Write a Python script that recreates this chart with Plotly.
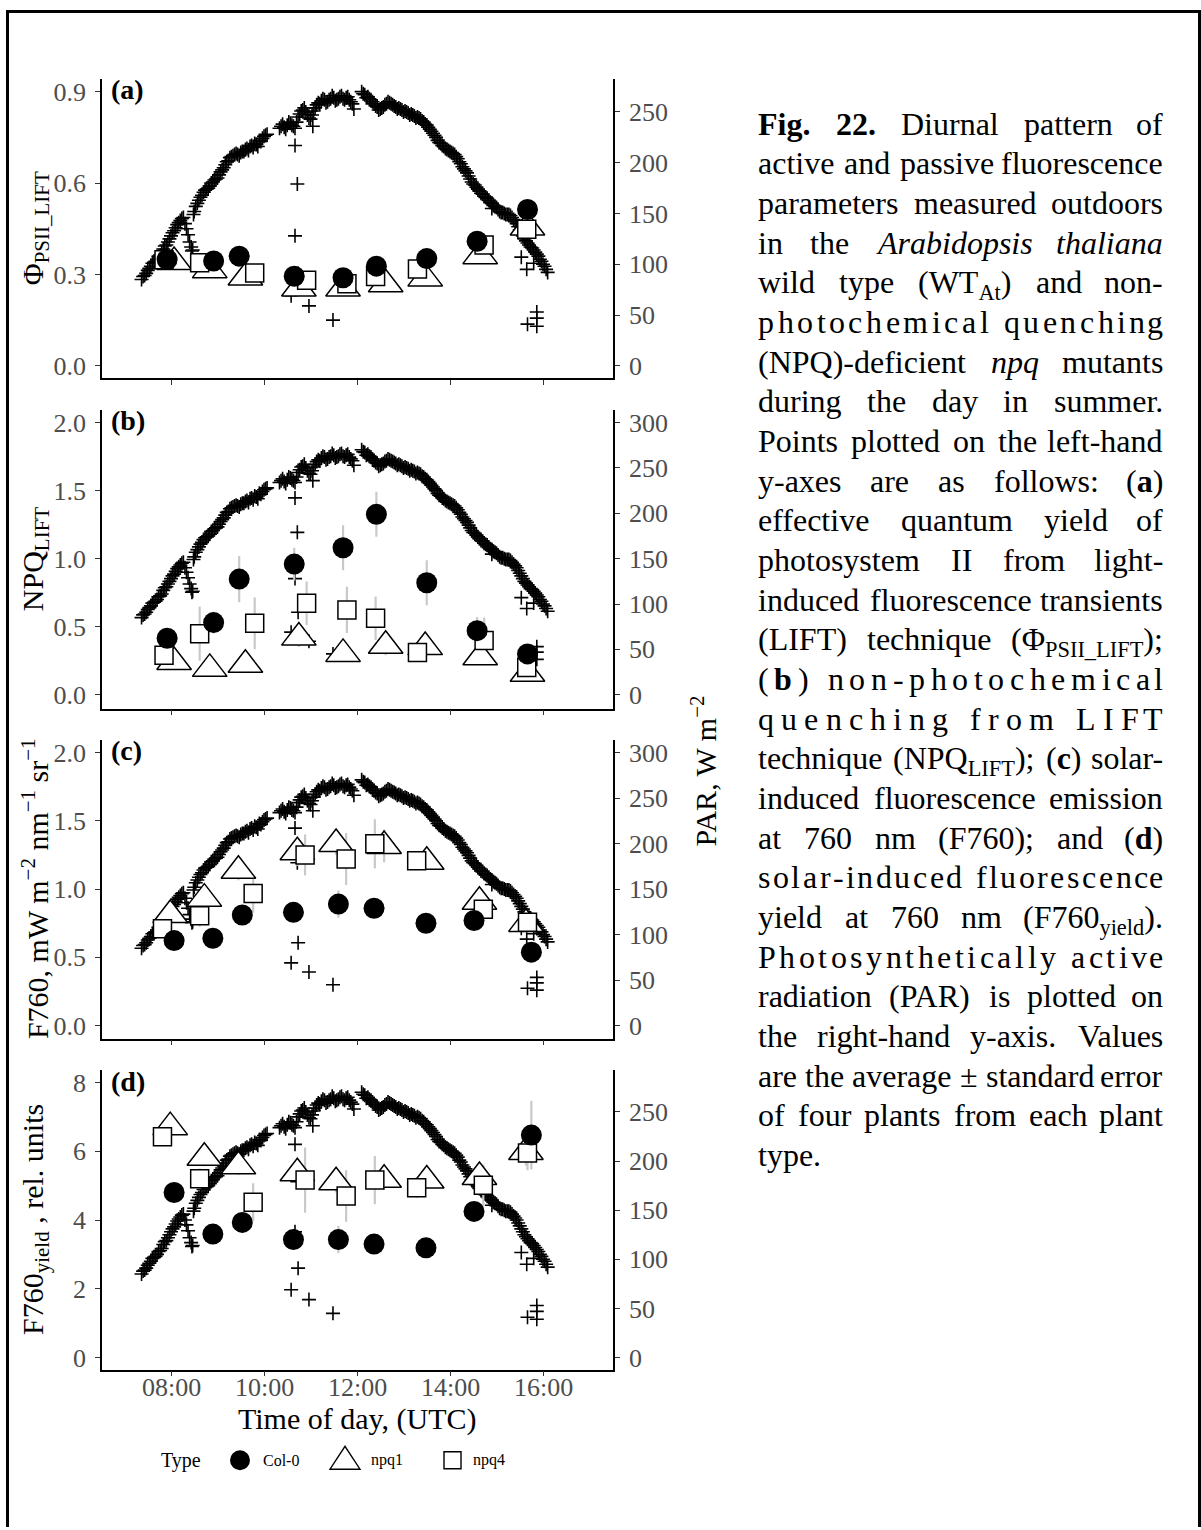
import pandas as pd
import plotly.graph_objects as go

W, H = 1201, 1530
DAY = "2019-07-10 "
SERIF = "Liberation Serif"

# ---------------- PAR record (two interleaved loggers, 4-min steps, None = no reading) -------------
par_times = pd.date_range(DAY + "07:22", DAY + "16:06", freq="4min")
par_values = [85, 89, 94, 98, 102, 105, 109, 115, 119, 125,
              131, 136, 141, 145, 140, 129, 117, 152, 160, 166,
              171, 174, 177, 181, 184, 188, 193, 198, 202, 206,
              208, 208, 210, 211, 214, 216, 215, 218, 222, 224,
              227, None, None, None, None, 236, 235, 237, 239, 236,
              240, 248, 252, 250, 244, 247, 254, 259, 261, 262,
              260, 263, 264, 262, 265, 263, 264, 262, 258, None,
              None, 270, 267, 265, 262, 258, 255, 253, 255, 258,
              259, 257, 255, 254, 252, 251, 249, 248, 246, 245,
              243, 240, 237, 233, 229, 225, 220, 217, 214, 212,
              210, 208, 204, 199, 194, 190, 184, 179, 176, 172,
              169, 166, 163, 160, 157, 154, 151, 150, 149, 148,
              144, 140, 134, 128, 123, 119, 116, 112, 108, 103,
              98, 92]
par_times_b = pd.date_range(DAY + "07:24", DAY + "16:04", freq="4min")
par_values_b = [88, 91, 96, 101, 103, 108, 111, 118, 122, 128,
                133, 139, 143, 146, 135, 122, 114, 157, 163, 168,
                173, 175, 180, 183, 185, 191, 195, 201, 205, 207,
                209, 207, 211, 213, 212, 217, 219, 216, 221, 226,
                228, None, None, None, 234, 238, 233, 240, 237, 234,
                245, 251, 254, 247, 243, 251, 257, 258, 263, 259,
                262, 266, 261, 263, 266, 262, 265, 260, None, None,
                None, 268, 264, 263, 260, 256, 252, 254, 257, 260,
                258, 256, 253, 253, 250, 250, 247, 247, 244, 244,
                241, 238, 235, 231, 227, 222, 219, 216, 213, 211,
                209, 206, 201, 196, 192, 187, 181, 178, 174, 170,
                167, 165, 161, 158, 156, 152, 151, 149, 149, 146,
                142, 137, 131, 125, 121, 117, 114, 110, 105, 100,
                95]
par_extra_times = ["08:27", "08:29", "10:35", "10:40", "10:40", "10:43", "10:44",
                   "10:58", "11:03", "11:29", "11:56", "14:54", "15:32", "15:39",
                   "15:48", "15:40", "15:52", "15:52", "15:52"]
par_extra_values = [113, 149, 69, 128, 217, 179, 91,
                    59, 236, 45, 253, 155, 107, 95,
                    101, 41, 53, 47, 39]

# ---------------- sampling times ----------------
lift_time_col0 = ["07:55", "08:55", "09:28", "10:39", "11:42", "12:25", "13:30", "14:35", "15:40"]
lift_time_npq1 = ["08:04", "08:50", "09:36", "10:45", "11:42", "12:37", "13:28", "14:39", "15:40"]
lift_time_npq4 = ["07:51", "08:37", "09:48", "10:55", "11:47", "12:24", "13:18", "14:44", "15:39"]
sif_time_col0 = ["08:04", "08:54", "09:32", "10:38", "11:36", "12:22", "13:29", "14:31", "15:45"]
sif_time_npq1 = ["07:59", "08:43", "09:27", "10:43", "11:33", "12:35", "13:30", "14:38", "15:38"]
sif_time_npq4 = ["07:49", "08:37", "09:46", "10:53", "11:46", "12:23", "13:17", "14:43", "15:40"]

# ---------------- (a) PhiPSII_LIFT ----------------
phi_col0 = [0.349, 0.344, 0.360, 0.294, 0.289, 0.327, 0.352, 0.409, 0.513]
phi_npq1 = [0.341, 0.314, 0.290, 0.254, 0.254, 0.268, 0.287, 0.360, 0.454]
phi_npq4 = [0.348, 0.338, 0.305, 0.281, 0.269, 0.293, 0.318, 0.397, 0.448]
phi_se_col0 = [0.01, 0.01, 0.01, 0.01, 0.01, 0.01, 0.01, 0.01, 0.01]
phi_se_npq1 = [0.01, 0.01, 0.01, 0.01, 0.01, 0.01, 0.01, 0.01, 0.01]
phi_se_npq4 = [0.01, 0.01, 0.01, 0.01, 0.01, 0.01, 0.01, 0.01, 0.01]

# ---------------- (b) NPQ_LIFT ----------------
npq_col0 = [0.415, 0.53, 0.85, 0.96, 1.08, 1.326, 0.823, 0.471, 0.30]
npq_npq1 = [0.24, 0.19, 0.22, 0.42, 0.30, 0.36, 0.35, 0.276, 0.154]
npq_npq4 = [0.29, 0.449, 0.525, 0.672, 0.623, 0.562, 0.31, 0.398, 0.20]
npq_se_col0 = [0.05, 0.08, 0.17, 0.12, 0.165, 0.165, 0.165, 0.10, 0.06]
npq_se_npq1 = [0.04, 0.05, 0.05, 0.07, 0.06, 0.07, 0.07, 0.06, 0.04]
npq_se_npq4 = [0.06, 0.20, 0.19, 0.16, 0.17, 0.16, 0.06, 0.17, 0.08]

# ---------------- (c) F760 ----------------
f760_col0 = [0.623, 0.64, 0.81, 0.83, 0.89, 0.86, 0.75, 0.77, 0.538]
f760_npq1 = [0.81, 0.93, 1.134, 1.27, 1.33, 1.316, 1.20, 0.907, 0.745]
f760_npq4 = [0.71, 0.805, 0.967, 1.25, 1.22, 1.332, 1.207, 0.853, 0.757]
f760_se_col0 = [0.03, 0.04, 0.05, 0.06, 0.10, 0.05, 0.04, 0.05, 0.05]
f760_se_npq1 = [0.05, 0.06, 0.07, 0.10, 0.08, 0.12, 0.06, 0.06, 0.05]
f760_se_npq4 = [0.04, 0.08, 0.14, 0.15, 0.19, 0.18, 0.07, 0.06, 0.05]

# ---------------- (d) F760 yield ----------------
fy_col0 = [4.80, 3.59, 3.93, 3.43, 3.43, 3.30, 3.19, 4.25, 6.47]
fy_npq1 = [6.70, 5.81, 5.56, 5.36, 5.10, 5.17, 5.15, 5.25, 5.98]
fy_npq4 = [6.42, 5.20, 4.52, 5.16, 4.70, 5.16, 4.94, 5.01, 5.95]
fy_se_col0 = [0.15, 0.15, 0.20, 0.20, 0.40, 0.20, 0.15, 0.20, 1.00]
fy_se_npq1 = [0.20, 0.25, 0.25, 0.40, 0.30, 0.30, 0.20, 0.30, 0.40]
fy_se_npq4 = [0.25, 0.30, 0.55, 0.95, 0.75, 0.70, 0.30, 0.60, 0.50]

x_ticks = ["08:00", "10:00", "12:00", "14:00", "16:00"]


def stamp(times):
    return [DAY + t for t in times]


def px(x):
    return x / W


def py(y):
    return 1 - y / H


# panel geometry (pixels) and left/right axis scaling
PLOT_L, PLOT_R = 102, 613
panels = [
    dict(top=77, bottom=377, lo=-0.0393, hi=0.9424, k=300,
         lticks=[0, 0.3, 0.6, 0.9], lfmt=".1f", rticks=[0, 50, 100, 150, 200, 250],
         tag="(a)", title="Φ<sub>PSII_LIFT</sub>",
         times=(lift_time_col0, lift_time_npq1, lift_time_npq4),
         vals=(phi_col0, phi_npq1, phi_npq4), ses=(phi_se_col0, phi_se_npq1, phi_se_npq4)),
    dict(top=409, bottom=709, lo=-0.1026, hi=2.0952, k=150,
         lticks=[0, 0.5, 1.0, 1.5, 2.0], lfmt=".1f", rticks=[0, 50, 100, 150, 200, 250, 300],
         tag="(b)", title="NPQ<sub>LIFT</sub>",
         times=(lift_time_col0, lift_time_npq1, lift_time_npq4),
         vals=(npq_col0, npq_npq1, npq_npq4), ses=(npq_se_col0, npq_se_npq1, npq_se_npq4)),
    dict(top=740, bottom=1040, lo=-0.0949, hi=2.0949, k=150,
         lticks=[0, 0.5, 1.0, 1.5, 2.0], lfmt=".1f", rticks=[0, 50, 100, 150, 200, 250, 300],
         tag="(c)", title="F760, mW m<sup>−2</sup> nm<sup>−1</sup> sr<sup>−1</sup>",
         times=(sif_time_col0, sif_time_npq1, sif_time_npq4),
         vals=(f760_col0, f760_npq1, f760_npq4), ses=(f760_se_col0, f760_se_npq1, f760_se_npq4)),
    dict(top=1072, bottom=1372, lo=-0.348, hi=8.348, k=35,
         lticks=[0, 2, 4, 6, 8], lfmt="d", rticks=[0, 50, 100, 150, 200, 250],
         tag="(d)", title="F760<sub>yield</sub> , rel. units",
         times=(sif_time_col0, sif_time_npq1, sif_time_npq4),
         vals=(fy_col0, fy_npq1, fy_npq4), ses=(fy_se_col0, fy_se_npq1, fy_se_npq4)),
]

TICK_FONT = dict(family=SERIF, size=26, color="#4D4D4D")
AXIS_COMMON = dict(showline=True, linecolor="black", linewidth=1.6, ticks="outside",
                   ticklen=5, tickwidth=1.3, tickcolor="#333333", showgrid=False,
                   zeroline=False, tickfont=TICK_FONT)

fig = go.Figure()
layout = {}
annotations = []
shapes = []

styles = {
    "npq1": dict(symbol="triangle-up", size=30, color="white", line=dict(color="black", width=1.5)),
    "npq4": dict(symbol="square", size=18, color="white", line=dict(color="black", width=1.5)),
    "Col-0": dict(symbol="circle", size=21, color="black", line=dict(color="black", width=0)),
}
PAR_MARK = dict(symbol="cross-thin", size=10, color="black", line=dict(color="black", width=1.6))

for i, p in enumerate(panels):
    xn = i + 1
    yb = 2 * i + 1   # PAR axis (right)
    yl = 2 * i + 2   # response axis (left), drawn on top
    xid = "x" if xn == 1 else f"x{xn}"
    ybid = "y" if yb == 1 else f"y{yb}"
    ylid = f"y{yl}"
    xname = "xaxis" if xn == 1 else f"xaxis{xn}"
    ybname = "yaxis" if yb == 1 else f"yaxis{yb}"
    ylname = f"yaxis{yl}"
    dom = [py(p["bottom"]), py(p["top"])]

    layout[xname] = dict(AXIS_COMMON, domain=[px(PLOT_L), px(PLOT_R)], anchor=ybid, type="date",
                         range=[DAY + "06:30:58", DAY + "17:30:19"],
                         tickvals=stamp(x_ticks), ticktext=x_ticks, showticklabels=False)
    layout[ybname] = dict(AXIS_COMMON, domain=dom, anchor=xid, side="right",
                          range=[p["lo"] * p["k"], p["hi"] * p["k"]],
                          tickvals=p["rticks"], ticklabelstandoff=4)
    layout[ylname] = dict(AXIS_COMMON, anchor=xid, overlaying=ybid, side="left",
                          range=[p["lo"], p["hi"]], tickvals=p["lticks"],
                          tickformat=p["lfmt"], ticklabelstandoff=4)

    # PAR on the right-hand axis
    for tx, ty in [(par_times, par_values), (par_times_b, par_values_b),
                   (stamp(par_extra_times), par_extra_values)]:
        fig.add_trace(go.Scatter(x=tx, y=ty, mode="markers", xaxis=xid, yaxis=ybid,
                                 marker=PAR_MARK, hoverinfo="skip"))

    t_col0, t_npq1, t_npq4 = p["times"]
    v_col0, v_npq1, v_npq4 = p["vals"]
    s_col0, s_npq1, s_npq4 = p["ses"]
    series = [("npq1", t_npq1, v_npq1, s_npq1),
              ("npq4", t_npq4, v_npq4, s_npq4),
              ("Col-0", t_col0, v_col0, s_col0)]
    # standard error bars (behind the symbols)
    for name, t, v, s in series:
        fig.add_trace(go.Scatter(x=stamp(t), y=v, mode="markers", xaxis=xid, yaxis=ylid,
                                 marker=dict(size=1, color="rgba(0,0,0,0)"),
                                 error_y=dict(type="data", array=s, color="#C9C9C9",
                                              thickness=2.2, width=0),
                                 hoverinfo="skip"))
    for name, t, v, s in series:
        fig.add_trace(go.Scatter(x=stamp(t), y=v, mode="markers", name=name,
                                 xaxis=xid, yaxis=ylid, marker=styles[name]))

    # panel tag
    annotations.append(dict(x=px(110), y=py(p["top"] + 11), xref="paper", yref="paper",
                            text="<b>" + p["tag"] + "</b>", showarrow=False,
                            xanchor="left", yanchor="middle", borderpad=0,
                            font=dict(family=SERIF, size=28, color="black")))
    # left axis title
    annotations.append(dict(x=px(35), y=py((p["top"] + p["bottom"]) / 2), xref="paper",
                            yref="paper", text=p["title"], showarrow=False, textangle=-90,
                            xanchor="center", yanchor="middle", borderpad=0,
                            font=dict(family=SERIF, size=30, color="black")))

# time labels under the bottom panel
for t in x_ticks:
    annotations.append(dict(x=DAY + t, y=py(1390), xref="x4", yref="paper", text=t,
                            showarrow=False, xanchor="center", yanchor="middle", borderpad=0,
                            font=TICK_FONT))

# shared titles
annotations.append(dict(x=px(704), y=py(772), xref="paper", yref="paper",
                        text="PAR, W m<sup>−2</sup>", showarrow=False, textangle=-90,
                        xanchor="center", yanchor="middle", borderpad=0,
                        font=dict(family=SERIF, size=30, color="black")))
annotations.append(dict(x=px((PLOT_L + PLOT_R) / 2), y=py(1422), xref="paper", yref="paper",
                        text="Time of day, (UTC)", showarrow=False,
                        xanchor="center", yanchor="middle", borderpad=0,
                        font=dict(family=SERIF, size=30, color="black")))

# ---------------- legend ----------------
LY = 1463
annotations.append(dict(x=px(160), y=py(LY), xref="paper", yref="paper", text="Type",
                        showarrow=False, xanchor="left", yanchor="middle", borderpad=0,
                        font=dict(family=SERIF, size=20, color="black")))
for label, lx in [("Col-0", 262), ("npq1", 370), ("npq4", 472)]:
    annotations.append(dict(x=px(lx), y=py(LY), xref="paper", yref="paper", text=label,
                            showarrow=False, xanchor="left", yanchor="middle", borderpad=0,
                            font=dict(family=SERIF, size=16, color="black")))
shapes.append(dict(type="circle", xref="paper", yref="paper", x0=px(230), x1=px(250),
                   y0=py(LY + 10), y1=py(LY - 10), fillcolor="black", line=dict(width=0)))
shapes.append(dict(type="path", xref="paper", yref="paper",
                   path=f"M {px(330)},{py(LY + 9)} L {px(360)},{py(LY + 9)} L {px(345)},{py(LY - 14)} Z",
                   fillcolor="white", line=dict(color="black", width=1.4)))
shapes.append(dict(type="rect", xref="paper", yref="paper", x0=px(444), x1=px(461),
                   y0=py(LY + 8.5), y1=py(LY - 8.5), fillcolor="white",
                   line=dict(color="black", width=1.4)))

# ---------------- page frame ----------------
FRAME = dict(color="black", width=3)
shapes.append(dict(type="line", xref="paper", yref="paper", x0=px(7.5), x1=px(7.5),
                   y0=py(9.5), y1=py(1530), line=FRAME))
shapes.append(dict(type="line", xref="paper", yref="paper", x0=px(6), x1=px(1201),
                   y0=py(9.5), y1=py(9.5), line=FRAME))
shapes.append(dict(type="line", xref="paper", yref="paper", x0=px(1199.5), x1=px(1199.5),
                   y0=py(9.5), y1=py(1530), line=FRAME))

# ---------------- caption (justified block) ----------------
TR = {' ': 250, '!': 333, '(': 333, ')': 333, ',': 250, '-': 333, '.': 250, ':': 278,
      ';': 278, '±': 564, 'Φ': 760, '_': 500,
      '0': 500, '1': 500, '2': 500, '3': 500, '4': 500, '5': 500, '6': 500, '7': 500,
      '8': 500, '9': 500,
      'A': 722, 'B': 667, 'C': 667, 'D': 722, 'E': 611, 'F': 556, 'G': 722, 'H': 722,
      'I': 333, 'J': 389, 'K': 722, 'L': 611, 'M': 889, 'N': 722, 'O': 722, 'P': 556,
      'Q': 722, 'R': 667, 'S': 556, 'T': 611, 'U': 722, 'V': 722, 'W': 944, 'X': 722,
      'Y': 722, 'Z': 611,
      'a': 444, 'b': 500, 'c': 444, 'd': 500, 'e': 444, 'f': 333, 'g': 500, 'h': 500,
      'i': 278, 'j': 278, 'k': 500, 'l': 278, 'm': 778, 'n': 500, 'o': 500, 'p': 500,
      'q': 500, 'r': 333, 's': 389, 't': 278, 'u': 500, 'v': 500, 'w': 722, 'x': 500,
      'y': 500, 'z': 444}
TB = {'F': 611, 'i': 278, 'g': 500, '.': 250, '2': 500, ' ': 250, 'a': 500, 'b': 556,
      'c': 444, 'd': 556}
TI = {'A': 611, 'r': 389, 'a': 500, 'b': 500, 'i': 278, 'd': 500, 'o': 500, 'p': 500,
      's': 389, 't': 278, 'h': 500, 'l': 278, 'n': 500, 'q': 500, ' ': 250}

CAP_FS = 32
CAP_L, CAP_R = 757, 1164
CAP_TOP, CAP_LEAD = 103, 39.8

caption_lines = [
    ([("Fig. 22.", "b"), (" Diurnal pattern of", "r")], "w"),
    ([("active and passive fluorescence", "r")], "w"),
    ([("parameters measured outdoors", "r")], "w"),
    ([("in the ", "r"), ("Arabidopsis thaliana", "i")], "w"),
    ([("wild type (WT", "r"), ("At", "s"), (") and non-", "r")], "w"),
    ([("photochemical quenching", "r")], "c"),
    ([("(NPQ)-deficient ", "r"), ("npq", "i"), (" mutants", "r")], "w"),
    ([("during the day in summer.", "r")], "w"),
    ([("Points plotted on the left-hand", "r")], "w"),
    ([("y-axes are as follows: (", "r"), ("a", "b"), (")", "r")], "w"),
    ([("effective quantum yield of", "r")], "w"),
    ([("photosystem II from light-", "r")], "w"),
    ([("induced fluorescence transients", "r")], "w"),
    ([("(LIFT) technique (Φ", "r"), ("PSII_LIFT", "s"), (");", "r")], "w"),
    ([("(", "r"), ("b", "b"), (") non-photochemical", "r")], "c"),
    ([("quenching from LIFT", "r")], "c"),
    ([("technique (NPQ", "r"), ("LIFT", "s"), ("); (", "r"), ("c", "b"), (") solar-", "r")], "w"),
    ([("induced fluorescence emission", "r")], "w"),
    ([("at 760 nm (F760); and (", "r"), ("d", "b"), (")", "r")], "w"),
    ([("solar-induced fluorescence", "r")], "c"),
    ([("yield at 760 nm (F760", "r"), ("yield", "s"), (").", "r")], "w"),
    ([("Photosynthetically active", "r")], "c"),
    ([("radiation (PAR) is plotted on", "r")], "w"),
    ([("the right-hand y-axis. Values", "r")], "w"),
    ([("are the average ± standard error", "r")], "w"),
    ([("of four plants from each plant", "r")], "w"),
    ([("type.", "r")], "l"),
]


def glyph_w(ch, st):
    if st == "b":
        return TB.get(ch, TR.get(ch, 500))
    if st == "i":
        return TI.get(ch, TR.get(ch, 500))
    if st == "s":
        return 0.7 * TR.get(ch, 500)
    return TR.get(ch, 500)


def run_width(chars):
    return sum(glyph_w(c, s) for c, s in chars) / 1000 * CAP_FS


def to_html(chars):
    tags = {"b": ("<b>", "</b>"), "i": ("<i>", "</i>"), "s": ("<sub>", "</sub>"), "r": ("", "")}
    out, cur = "", None
    for c, s in chars:
        if s != cur:
            if cur is not None:
                out += tags[cur][1]
            out += tags[s][0]
            cur = s
        out += c
    if cur is not None:
        out += tags[cur][1]
    return out


def cap_text(x, y, chars, anchor="left"):
    annotations.append(dict(x=px(x), y=py(y), xref="paper", yref="paper",
                            text=to_html(chars), showarrow=False, xanchor=anchor,
                            yanchor="top", borderpad=0,
                            font=dict(family=SERIF, size=CAP_FS, color="black")))


for li, (runs, mode) in enumerate(caption_lines):
    chars = [(c, s) for text, s in runs for c in text]
    ytop = CAP_TOP + li * CAP_LEAD
    if mode == "c":
        widths = [run_width([u]) for u in chars]
        extra = (CAP_R - CAP_L - sum(widths)) / (len(chars) - 1)
        x = CAP_L
        for j, u in enumerate(chars):
            if u[0] != " ":
                if j == len(chars) - 1:
                    cap_text(CAP_R, ytop, [u], "right")
                else:
                    cap_text(x, ytop, [u])
            x += widths[j] + extra
    else:
        words, cur = [], []
        for c, s in chars:
            if c == " ":
                if cur:
                    words.append(cur)
                cur = []
            else:
                cur.append((c, s))
        if cur:
            words.append(cur)
        widths = [run_width(wd) for wd in words]
        if mode == "l" or len(words) == 1:
            gap = TR[" "] / 1000 * CAP_FS
        else:
            gap = (CAP_R - CAP_L - sum(widths)) / (len(words) - 1)
        x = CAP_L
        for j, wd in enumerate(words):
            if mode == "w" and j == len(words) - 1 and len(words) > 1:
                cap_text(CAP_R, ytop, wd, "right")
            else:
                cap_text(x, ytop, wd)
            x += widths[j] + gap

fig.update_layout(**layout)
fig.update_layout(width=W, height=H, margin=dict(l=0, r=0, t=0, b=0),
                  paper_bgcolor="white", plot_bgcolor="white", showlegend=False,
                  annotations=annotations, shapes=shapes,
                  font=dict(family=SERIF, color="black"))

fig.write_html("out.html")
